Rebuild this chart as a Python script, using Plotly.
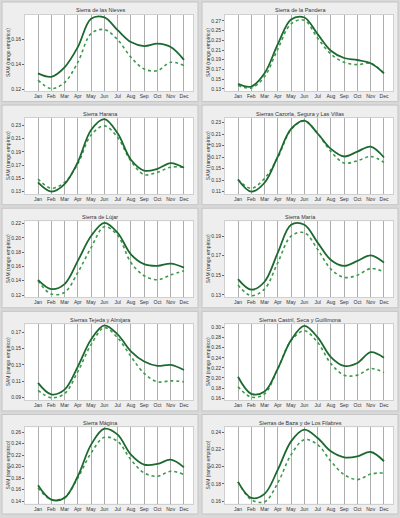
import plotly.graph_objects as go

months = ["Jan", "Feb", "Mar", "Apr", "May", "Jun", "Jul", "Aug", "Sep", "Oct", "Nov", "Dec"]

titles = [
    "Sierra de las Nieves", "Sierra de la Pandera",
    "Sierra Harana", "Sierras Cazorla, Segura y Las Villas",
    "Sierra de Lújar", "Sierra María",
    "Sierras Tejeda y Almijara", "Sierras Castril, Seca y Guillimona",
    "Sierra Mágina", "Sierras de Baza y de Los Filabres",
]

# solid line (dark green) per sierra
solid = [
    [0.1327, 0.1300, 0.1376, 0.1538, 0.1765, 0.1775, 0.1673, 0.1578, 0.1546, 0.1565, 0.1538, 0.1435],
    [0.1402, 0.1348, 0.1620, 0.2220, 0.2730, 0.2770, 0.2427, 0.2085, 0.1935, 0.1894, 0.1826, 0.1620],
    [0.1438, 0.1300, 0.1413, 0.1746, 0.2233, 0.2397, 0.2182, 0.1782, 0.1618, 0.1644, 0.1731, 0.1659],
    [0.1311, 0.1100, 0.1254, 0.1711, 0.2190, 0.2335, 0.2111, 0.1843, 0.1711, 0.1797, 0.1883, 0.1694],
    [0.1413, 0.1283, 0.1353, 0.1677, 0.2024, 0.2209, 0.2070, 0.1769, 0.1631, 0.1607, 0.1640, 0.1584],
    [0.1462, 0.1354, 0.1435, 0.1731, 0.2015, 0.2015, 0.1833, 0.1657, 0.1597, 0.1647, 0.1704, 0.1630],
    [0.1081, 0.0941, 0.0999, 0.1279, 0.1609, 0.1782, 0.1671, 0.1465, 0.1341, 0.1288, 0.1300, 0.1238],
    [0.2023, 0.1685, 0.1730, 0.2186, 0.2753, 0.3033, 0.2805, 0.2414, 0.2238, 0.2297, 0.2512, 0.2401],
    [0.1677, 0.1429, 0.1458, 0.1833, 0.2381, 0.2658, 0.2554, 0.2208, 0.2035, 0.2046, 0.2121, 0.1988],
    [0.1823, 0.1638, 0.1685, 0.1965, 0.2292, 0.2427, 0.2331, 0.2177, 0.2108, 0.2119, 0.2169, 0.2062],
]

# dotted line (lighter green) per sierra
dotted = [
    [0.1273, 0.1205, 0.1254, 0.1416, 0.1646, 0.1678, 0.1597, 0.1457, 0.1362, 0.1349, 0.1416, 0.1389],
    [0.1368, 0.1320, 0.1553, 0.2120, 0.2640, 0.2714, 0.2345, 0.2017, 0.1846, 0.1799, 0.1826, 0.1620],
    [0.1490, 0.1351, 0.1438, 0.1720, 0.2156, 0.2295, 0.2120, 0.1762, 0.1556, 0.1592, 0.1669, 0.1669],
    [0.1311, 0.1157, 0.1329, 0.1694, 0.2180, 0.2330, 0.2111, 0.1797, 0.1597, 0.1637, 0.1711, 0.1609],
    [0.1399, 0.1214, 0.1237, 0.1515, 0.1862, 0.2154, 0.2033, 0.1654, 0.1469, 0.1413, 0.1482, 0.1538],
    [0.1401, 0.1293, 0.1361, 0.1630, 0.1900, 0.1934, 0.1765, 0.1563, 0.1479, 0.1502, 0.1570, 0.1536],
    [0.0991, 0.0900, 0.0950, 0.1218, 0.1547, 0.1754, 0.1630, 0.1403, 0.1197, 0.1094, 0.1106, 0.1094],
    [0.1828, 0.1620, 0.1685, 0.2186, 0.2740, 0.2935, 0.2707, 0.2284, 0.2056, 0.2056, 0.2186, 0.2108],
    [0.1631, 0.1429, 0.1469, 0.1804, 0.2237, 0.2508, 0.2438, 0.2121, 0.1890, 0.1833, 0.1919, 0.1862],
    [0.1823, 0.1619, 0.1592, 0.1812, 0.2138, 0.2312, 0.2254, 0.2062, 0.1908, 0.1850, 0.1915, 0.1927],
]

# first y tick of each panel (step 0.02)
first_tick = [0.12, 0.13, 0.13, 0.11, 0.12, 0.13, 0.09, 0.16, 0.14, 0.16]
y_ranges = [
    [0.1185, 0.1795], [0.1252, 0.2823], [0.1259, 0.2413], [0.1054, 0.2380], [0.1168, 0.2232],
    [0.1276, 0.2052], [0.0867, 0.1795], [0.1554, 0.3065], [0.1360, 0.2681], [0.1573, 0.2454],
]

W, H = 400, 518
FONT = "Liberation Sans, Arial, sans-serif"
DARK = "#1d6a31"
LIGHT = "#3c9a4c"

fig = go.Figure()
shapes, annotations = [], []
layout = {}

row_tops = [1, 104.5, 208, 311.5, 415]
col_lefts = [2, 202]

for i, name in enumerate(titles):
    r, c = divmod(i, 2)
    top = row_tops[r]
    left = col_lefts[c]
    n = "" if i == 0 else str(i + 1)
    px0, px1 = left + 23, left + 191
    py0, py1 = top + 13, top + 89.5

    # panel frame + white plotting area
    shapes.append(dict(type="rect", xref="paper", yref="paper", layer="below",
                       x0=left / W, x1=(left + 196) / W,
                       y0=1 - (top + 100) / H, y1=1 - top / H,
                       fillcolor="#eeeeee", line=dict(color="#c4c4c4", width=1)))
    shapes.append(dict(type="rect", xref="paper", yref="paper", layer="below",
                       x0=px0 / W, x1=px1 / W, y0=1 - py1 / H, y1=1 - py0 / H,
                       fillcolor="white", line=dict(width=0)))

    layout["xaxis" + n] = dict(
        domain=[px0 / W, px1 / W], anchor="y" + n,
        range=[-0.98, 11.68], tickvals=list(range(12)), ticktext=months,
        showgrid=True, gridcolor="#adadad", gridwidth=1, zeroline=False,
        showline=True, linecolor="#d0d0d0", mirror=True, ticks="",
        tickfont=dict(size=5, color="#333", family=FONT), fixedrange=True,
    )
    layout["yaxis" + n] = dict(
        domain=[1 - py1 / H, 1 - py0 / H], anchor="x" + n,
        range=y_ranges[i], tick0=first_tick[i], dtick=0.02, tickformat=".2f",
        showgrid=False, zeroline=False, showline=True, linecolor="#d0d0d0", mirror=True,
        ticks="outside", ticklen=2, tickcolor="#666",
        tickfont=dict(size=5, color="#333", family=FONT), fixedrange=True,
    )

    annotations.append(dict(text=name, xref="paper", yref="paper",
                            x=(left + 98) / W, y=1 - (top + 8.5) / H,
                            xanchor="center", yanchor="middle", showarrow=False,
                            font=dict(size=5.5, color="#333", family=FONT)))
    annotations.append(dict(text="SAM (rango empírico)", xref="paper", yref="paper",
                            x=(left + 6) / W, y=1 - (py0 + py1) / 2 / H, textangle=-90,
                            xanchor="center", yanchor="middle",
                            showarrow=False, font=dict(size=5, color="#333", family=FONT)))

    fig.add_trace(go.Scatter(x=list(range(12)), y=dotted[i], mode="lines",
                             line=dict(color=LIGHT, width=1.6, dash="dot", shape="spline", smoothing=1.0),
                             xaxis="x" + n, yaxis="y" + n, showlegend=False, hoverinfo="skip"))
    fig.add_trace(go.Scatter(x=list(range(12)), y=solid[i], mode="lines",
                             line=dict(color=DARK, width=1.8, shape="spline", smoothing=1.0),
                             xaxis="x" + n, yaxis="y" + n, showlegend=False, hoverinfo="skip"))

fig.update_layout(
    width=W, height=H, margin=dict(l=0, r=0, t=0, b=0),
    paper_bgcolor="#d9d9d9", plot_bgcolor="white",
    shapes=shapes, annotations=annotations, showlegend=False,
    **layout,
)

fig.write_html("out.html", config={"displayModeBar": False},
               post_script="document.body.style.margin='0';")
